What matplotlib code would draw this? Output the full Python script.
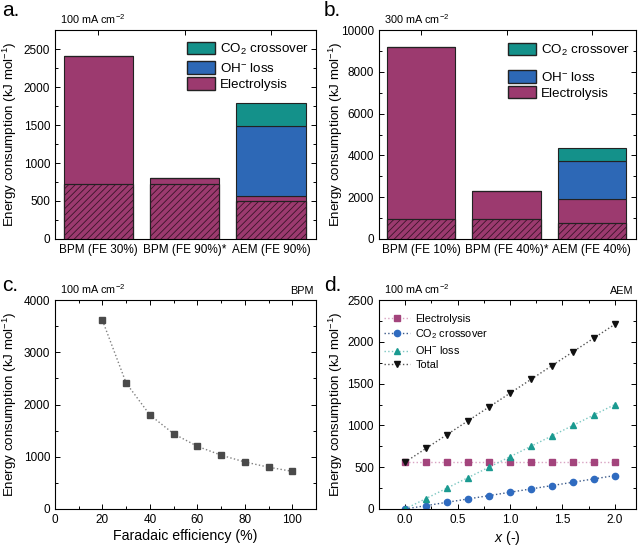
import matplotlib
matplotlib.use("Agg")
import matplotlib.pyplot as plt
from matplotlib.patches import Patch
from matplotlib.ticker import MultipleLocator, FormatStrFormatter

plt.rcParams['font.family'] = ['Liberation Sans', 'DejaVu Sans']
plt.rcParams['mathtext.fontset'] = 'custom'
plt.rcParams['mathtext.rm'] = 'Liberation Sans'
plt.rcParams['mathtext.it'] = 'Liberation Sans:italic'
plt.rcParams['hatch.linewidth'] = 0.6

# ---------------- data ----------------
# panel a (100 mA cm-2)
a_labels = ["BPM (FE 30%)", "BPM (FE 90%)*", "AEM (FE 90%)"]
a_hatched = [720, 720, 500]
a_electrolysis = [2410, 800, 560]
a_oh_loss = [0, 0, 930]
a_co2 = [0, 0, 300]

# panel b (300 mA cm-2)
b_labels = ["BPM (FE 10%)", "BPM (FE 40%)*", "AEM (FE 40%)"]
b_hatched = [950, 950, 780]
b_electrolysis = [9200, 2300, 1900]
b_oh_loss = [0, 0, 1850]
b_co2 = [0, 0, 600]

# panel c (BPM)
c_fe = [20, 30, 40, 50, 60, 70, 80, 90, 100]
c_energy = [3610, 2410, 1800, 1440, 1200, 1030, 900, 800, 720]

# panel d (AEM)
d_x = [0.0, 0.2, 0.4, 0.6, 0.8, 1.0, 1.2, 1.4, 1.6, 1.8, 2.0]
d_electrolysis = [560, 560, 560, 560, 560, 560, 560, 560, 560, 560, 560]
d_co2 = [0, 40, 80, 120, 160, 200, 240, 280, 320, 360, 400]
d_oh = [0, 125, 250, 375, 500, 625, 750, 875, 1000, 1125, 1250]
d_total = [560, 725, 890, 1055, 1220, 1385, 1550, 1715, 1880, 2045, 2210]

C_EL = '#9c3a6f'
C_OH = '#2d68b6'
C_CO2 = '#14918a'
EDGE = '#222222'

fig = plt.figure(figsize=(6.41, 5.46), dpi=100)
ax_a = fig.add_axes([0.0858, 0.5623, 0.4072, 0.3827])
ax_b = fig.add_axes([0.591, 0.5623, 0.401, 0.3827])
ax_c = fig.add_axes([0.0858, 0.0678, 0.4072, 0.3827])
ax_d = fig.add_axes([0.591, 0.0678, 0.401, 0.3827])

LBL_FS = 9.6
TICK_FS = 8.5
YLABEL = 'Energy consumption (kJ mol$^{-1}$)'


def style(ax):
    ax.tick_params(which='both', direction='in', top=True, right=True,
                   labelsize=TICK_FS, width=0.7)
    ax.tick_params(which='major', length=3.5)
    ax.tick_params(which='minor', length=2)
    for s in ax.spines.values():
        s.set_linewidth(0.8)


def bars(ax, labels, hatched, elec, oh, co2, ymax, major, minor, lx, ly1, ly2):
    x = list(range(len(labels)))
    w = 0.8
    ax.bar(x, elec, width=w, color=C_EL, edgecolor=EDGE, linewidth=0.8, zorder=2)
    ax.bar(x, hatched, width=w, color=C_EL, edgecolor='#3a1428', hatch='/////',
           linewidth=0.8, zorder=3)
    ax.bar(x, hatched, width=w, color='none', edgecolor=EDGE, linewidth=0.8, zorder=4)
    ax.bar(x, oh, width=w, bottom=elec, color=C_OH, edgecolor=EDGE, linewidth=0.8, zorder=2)
    bot2 = [e + o for e, o in zip(elec, oh)]
    ax.bar(x, co2, width=w, bottom=bot2, color=C_CO2, edgecolor=EDGE, linewidth=0.8, zorder=2)
    ax.set_xlim(-0.5, 2.52)
    ax.set_ylim(0, ymax)
    ax.set_xticks(x)
    ax.set_xticklabels(labels, fontsize=TICK_FS)
    ax.yaxis.set_major_locator(MultipleLocator(major))
    ax.yaxis.set_minor_locator(MultipleLocator(minor))
    style(ax)
    ax.tick_params(axis='x', which='minor', bottom=False, top=False)
    ax.set_ylabel(YLABEL, fontsize=LBL_FS)
    kw = dict(frameon=False, fontsize=9.6, handlelength=2.1, handleheight=1.1,
              labelspacing=0.15, borderaxespad=0.0, borderpad=0.0,
              handletextpad=0.35, loc='upper left')
    leg1 = ax.legend(handles=[Patch(facecolor=C_CO2, edgecolor=EDGE, label='CO$_2$ crossover')],
                     bbox_to_anchor=(lx, ly1), **kw)
    ax.add_artist(leg1)
    ax.legend(handles=[Patch(facecolor=C_OH, edgecolor=EDGE, label='OH$^{-}$ loss'),
                       Patch(facecolor=C_EL, edgecolor=EDGE, label='Electrolysis')],
              bbox_to_anchor=(lx, ly2), **kw)


bars(ax_a, a_labels, a_hatched, a_electrolysis, a_oh_loss, a_co2, 2750, 500, 250,
     0.506, 0.945, 0.85)
bars(ax_b, b_labels, b_hatched, b_electrolysis, b_oh_loss, b_co2, 10000, 2000, 1000,
     0.502, 0.94, 0.81)

# panel c
ax_c.plot(c_fe, c_energy, ls=':', color='#808080', lw=1.0, marker='s', ms=4.2,
          mfc='#4a4a4a', mec='#4a4a4a')
ax_c.set_xlim(0, 110)
ax_c.set_ylim(0, 4000)
ax_c.xaxis.set_major_locator(MultipleLocator(20))
ax_c.xaxis.set_minor_locator(MultipleLocator(10))
ax_c.yaxis.set_major_locator(MultipleLocator(1000))
ax_c.yaxis.set_minor_locator(MultipleLocator(500))
style(ax_c)
ax_c.set_xlabel('Faradaic efficiency (%)', fontsize=LBL_FS + 0.6, labelpad=2)
ax_c.set_ylabel(YLABEL, fontsize=LBL_FS)

# panel d
ax_d.plot(d_x, d_electrolysis, ls=':', color='#d9a3c2', lw=1.0, marker='s', ms=4.2,
          mfc='#a3447c', mec='#a3447c', label='Electrolysis')
ax_d.plot(d_x, d_co2, ls=':', color='#3b5a8a', lw=1.0, marker='o', ms=4.5,
          mfc='#2f6bc0', mec='#2f6bc0', label='CO$_2$ crossover')
ax_d.plot(d_x, d_oh, ls=':', color='#7cc7c2', lw=1.0, marker='^', ms=5,
          mfc='#1a9a90', mec='#1a9a90', label='OH$^{-}$ loss')
ax_d.plot(d_x, d_total, ls=':', color='#555555', lw=1.0, marker='v', ms=5,
          mfc='#111111', mec='#111111', label='Total')
ax_d.set_xlim(-0.25, 2.2)
ax_d.set_ylim(0, 2500)
ax_d.xaxis.set_major_locator(MultipleLocator(0.5))
ax_d.xaxis.set_minor_locator(MultipleLocator(0.25))
ax_d.yaxis.set_major_locator(MultipleLocator(500))
ax_d.yaxis.set_minor_locator(MultipleLocator(250))
ax_d.xaxis.set_major_formatter(FormatStrFormatter('%.1f'))
style(ax_d)
ax_d.set_xlabel('$x$ (-)', fontsize=LBL_FS + 0.6, labelpad=2)
ax_d.set_ylabel(YLABEL, fontsize=LBL_FS)
ax_d.legend(loc='upper left', frameon=False, fontsize=7.8, handlelength=2.4,
            labelspacing=0.32, borderaxespad=0.0, borderpad=0.0, handletextpad=0.5,
            bbox_to_anchor=(0.02, 0.935))

# y label positions
ax_a.yaxis.set_label_coords(-0.137, 0.5)
ax_c.yaxis.set_label_coords(-0.137, 0.5)
ax_b.yaxis.set_label_coords(-0.13, 0.5)
ax_d.yaxis.set_label_coords(-0.13, 0.5)

# annotations
for ax, txt in [(ax_a, '100 mA cm$^{-2}$'), (ax_b, '300 mA cm$^{-2}$'),
                (ax_c, '100 mA cm$^{-2}$'), (ax_d, '100 mA cm$^{-2}$')]:
    ax.text(0.02, 1.02, txt, transform=ax.transAxes, fontsize=7.8,
            ha='left', va='bottom')
ax_c.text(0.99, 1.02, 'BPM', transform=ax_c.transAxes, fontsize=7.8, ha='right', va='bottom')
ax_d.text(0.99, 1.02, 'AEM', transform=ax_d.transAxes, fontsize=7.8, ha='right', va='bottom')

for lbl, xx, yy in [('a.', 0.003, 0.998), ('b.', 0.505, 0.998),
                    ('c.', 0.003, 0.495), ('d.', 0.505, 0.495)]:
    fig.text(xx, yy, lbl, fontsize=15, ha='left', va='top')

fig.savefig('out.png', dpi=100)
